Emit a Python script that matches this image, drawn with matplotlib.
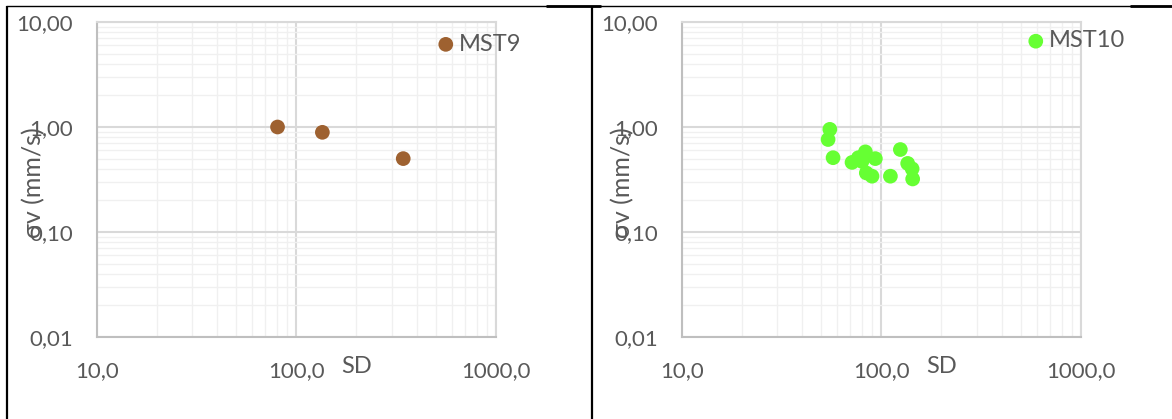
import numpy as np
import matplotlib.pyplot as plt
from matplotlib.lines import Line2D
from matplotlib.ticker import LogLocator, NullFormatter

# data
mst9_sd = [80.5, 135.0, 343.0]
mst9_v = [1.00, 0.89, 0.50]

mst10_sd = [55.2, 54.1, 57.3, 71.3, 76.7, 83.2, 93.3, 80.0, 84.1, 89.8, 111.0, 124.5, 135.5, 142.6, 143.5]
mst10_v = [0.95, 0.76, 0.51, 0.46, 0.51, 0.58, 0.50, 0.47, 0.365, 0.34, 0.34, 0.61, 0.45, 0.40, 0.32]

x_ticks = [10, 100, 1000]
x_labels = ['10,0', '100,0', '1000,0']
y_ticks = [0.01, 0.1, 1, 10]
y_labels = ['0,01', '0,10', '1,00', '10,00']

TXT = '#595959'
FONT = ['Lato', 'DejaVu Sans']
plt.rcParams['font.family'] = FONT

W, H = 1172, 419
fig = plt.figure(figsize=(W / 100, H / 100), dpi=100)


def px_box(x0, x1, y0, y1):
    return [x0 / W, 1 - y1 / H, (x1 - x0) / W, (y1 - y0) / H]


def make_panel(box, sd, v, name, color, leg_x, leg_y, ylab_x):
    ax = fig.add_axes(box)
    ax.set_xscale('log')
    ax.set_yscale('log')
    ax.set_xlim(10, 1000)
    ax.set_ylim(0.01, 10)

    ax.xaxis.set_minor_locator(LogLocator(base=10, subs=np.arange(2, 10)))
    ax.yaxis.set_minor_locator(LogLocator(base=10, subs=np.arange(2, 10)))
    ax.xaxis.set_minor_formatter(NullFormatter())
    ax.yaxis.set_minor_formatter(NullFormatter())
    ax.set_xticks(x_ticks, x_labels)
    ax.set_yticks(y_ticks, y_labels)

    ax.grid(which='major', color='#D9D9D9', lw=1.5, zorder=0)
    ax.grid(which='minor', color='#F0F0F0', lw=1.0, zorder=0)
    ax.set_axisbelow(True)

    ax.tick_params(which='both', length=0)
    ax.tick_params(axis='x', pad=17, labelsize=16, labelcolor=TXT)
    ax.tick_params(axis='y', pad=17, labelsize=16, labelcolor=TXT)

    for s in ['top', 'right']:
        ax.spines[s].set_color('#D9D9D9')
        ax.spines[s].set_linewidth(1.5)
    for s in ['left', 'bottom']:
        ax.spines[s].set_color('#BFBFBF')
        ax.spines[s].set_linewidth(1.5)

    ax.scatter(sd, v, s=112, color=color, edgecolors='none', label=name, zorder=3, clip_on=False)

    ax.legend(loc='center left', bbox_to_anchor=(leg_x, leg_y), frameon=False,
              handlelength=0.6, handletextpad=0.25, borderpad=0, borderaxespad=0,
              fontsize=17, labelcolor=TXT, markerscale=1.0)

    ax.text(0.652, -0.095, 'SD', transform=ax.transAxes, ha='center', va='center',
            fontsize=17, color=TXT)
    ax.text(ylab_x, 0.49, 'σv (mm/s)', transform=ax.transAxes, rotation=90,
            ha='center', va='center', fontsize=18, color=TXT)
    return ax


make_panel(px_box(96.7, 496, 22, 337), mst9_sd, mst9_v, 'MST9', '#9E6130', 0.8565, 0.930, -0.158)
make_panel(px_box(681.7, 1081, 22, 337), mst10_sd, mst10_v, 'MST10', '#66FF33', 0.869, 0.940, -0.147)

# table borders
def fig_line(x0, y0, x1, y1, lw):
    fig.add_artist(Line2D([x0 / W, x1 / W], [1 - y0 / H, 1 - y1 / H], color='black', lw=lw,
                          solid_capstyle='butt'))


fig_line(6, 6, W, 6, 1.0)
fig_line(546, 6, 601, 6, 2.0)
fig_line(1130, 6, W, 6, 2.0)
fig_line(7, 6, 7, H, 1.6)
fig_line(591.5, 6, 591.5, H, 1.6)

fig.savefig('out.png', dpi=100)
